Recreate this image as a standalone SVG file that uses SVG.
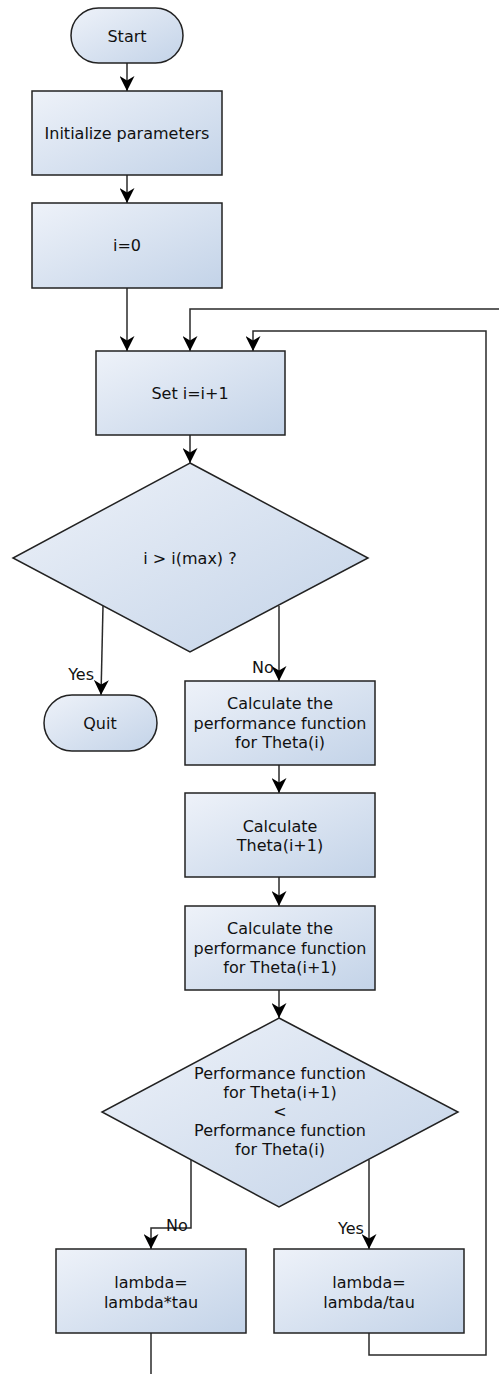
<svg xmlns="http://www.w3.org/2000/svg" width="499" height="1374" viewBox="0 0 499 1374">
  <defs>
    <linearGradient id="fillGrad" x1="0" y1="0" x2="1" y2="1">
      <stop offset="0" stop-color="#eef2f9"/>
      <stop offset="1" stop-color="#c3d3e8"/>
    </linearGradient>
    <marker id="arrow" viewBox="-15 -7.5 15 15" refX="0" refY="0" markerWidth="15" markerHeight="15" orient="auto" markerUnits="userSpaceOnUse">
      <path d="M0,0 L-15,-7.5 L-10.5,0 L-15,7.5 Z" fill="#000"/>
    </marker>
    <style>
      .shape { fill: url(#fillGrad); stroke: #222; stroke-width: 1.5; }
      .label { font-family: "DejaVu Sans", Verdana, sans-serif; font-size: 16px; fill: #111; text-anchor: middle; }
      .edge-label { font-family: "DejaVu Sans", Verdana, sans-serif; font-size: 16px; fill: #111; }
      .edge { fill: none; stroke: #2a2a2a; stroke-width: 1.5; }
      .arrowed { marker-end: url(#arrow); }
    </style>
  </defs>

  <!-- connectors -->
  <g id="connectors">
    <path class="edge arrowed" d="M127,63 L127,91"/>
    <path class="edge arrowed" d="M127,175 L127,203"/>
    <path class="edge arrowed" d="M127,288 L127,351"/>
    <path class="edge arrowed" d="M499,309 L190,309 L190,351"/>
    <path class="edge arrowed" d="M369,1333 L369,1355 L486,1355 L486,331 L253,331 L253,351"/>
    <path class="edge arrowed" d="M190,435 L190,463"/>
    <path class="edge arrowed" d="M103,606 L101,695"/>
    <path class="edge arrowed" d="M279,606 L279,681"/>
    <path class="edge arrowed" d="M279,765 L279,793"/>
    <path class="edge arrowed" d="M279,877 L279,906"/>
    <path class="edge arrowed" d="M279,990 L279,1018"/>
    <path class="edge arrowed" d="M191,1160 L191,1228 L151,1228 L151,1249"/>
    <path class="edge arrowed" d="M369,1160 L369,1249"/>
    <path class="edge" d="M151,1333 L151,1374"/>
    <text class="edge-label" x="94" y="680" text-anchor="end">Yes</text>
    <text class="edge-label" x="252" y="673">No</text>
    <text class="edge-label" x="166" y="1231">No</text>
    <text class="edge-label" x="338" y="1234">Yes</text>
  </g>

  <g id="start">
    <rect class="shape" x="71" y="8" width="112" height="55" rx="27.5" ry="27.5"/>
    <text class="label" x="127" y="41.5">Start</text>
  </g>

  <g id="init">
    <rect class="shape" x="32" y="91" width="190" height="84"/>
    <text class="label" x="127" y="139">Initialize parameters</text>
  </g>

  <g id="i0">
    <rect class="shape" x="32" y="203" width="190" height="85"/>
    <text class="label" x="127" y="251">i=0</text>
  </g>

  <g id="increment">
    <rect class="shape" x="96" y="351" width="189" height="84"/>
    <text class="label" x="190" y="399">Set i=i+1</text>
  </g>

  <g id="check-max">
    <polygon class="shape" points="190,463 368,558 190,652 13,558"/>
    <text class="label" x="190" y="564">i &gt; i(max) ?</text>
  </g>

  <g id="quit">
    <rect class="shape" x="44" y="695" width="113" height="56" rx="28" ry="28"/>
    <text class="label" x="100" y="729">Quit</text>
  </g>

  <g id="perf-i">
    <rect class="shape" x="185" y="681" width="190" height="84"/>
    <text class="label" x="280" y="709">Calculate the</text>
    <text class="label" x="280" y="728.5">performance function</text>
    <text class="label" x="280" y="748">for Theta(i)</text>
  </g>

  <g id="theta-next">
    <rect class="shape" x="185" y="793" width="190" height="84"/>
    <text class="label" x="280" y="831.5">Calculate</text>
    <text class="label" x="280" y="851">Theta(i+1)</text>
  </g>

  <g id="perf-next">
    <rect class="shape" x="185" y="906" width="190" height="84"/>
    <text class="label" x="280" y="934">Calculate the</text>
    <text class="label" x="280" y="953.5">performance function</text>
    <text class="label" x="280" y="973">for Theta(i+1)</text>
  </g>

  <g id="compare">
    <polygon class="shape" points="279,1018 458,1112 279,1207 102,1112"/>
    <text class="label" x="280" y="1079">Performance function</text>
    <text class="label" x="280" y="1098">for Theta(i+1)</text>
    <text class="label" x="280" y="1117">&lt;</text>
    <text class="label" x="280" y="1136">Performance function</text>
    <text class="label" x="280" y="1155">for Theta(i)</text>
  </g>

  <g id="lambda-mul">
    <rect class="shape" x="56" y="1249" width="190" height="84"/>
    <text class="label" x="151" y="1288">lambda=</text>
    <text class="label" x="151" y="1307.5">lambda*tau</text>
  </g>

  <g id="lambda-div">
    <rect class="shape" x="274" y="1249" width="190" height="84"/>
    <text class="label" x="369" y="1288">lambda=</text>
    <text class="label" x="369" y="1307.5">lambda/tau</text>
  </g>
</svg>
